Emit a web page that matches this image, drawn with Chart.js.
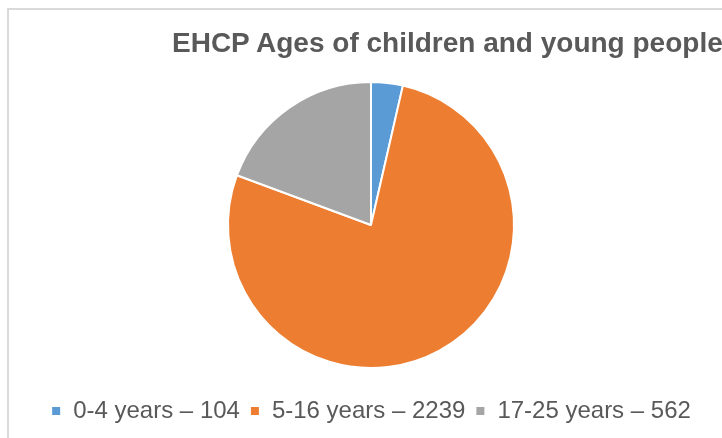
<!DOCTYPE html>
<html>
<head>
<meta charset="utf-8">
<script src="https://cdn.jsdelivr.net/npm/chart.js@4/dist/chart.umd.min.js"></script>
<style>
  html, body { margin: 0; padding: 0; background: #fff; overflow: hidden; }
  #wrap { position: relative; width: 722px; height: 438px; overflow: hidden; }
  #frame { position: absolute; left: 7px; top: 8px; width: 800px; height: 500px;
           border-top: 2px solid #d9d9d9; border-left: 2px solid #d9d9d9; }
  #title { position: absolute; left: 172px; top: 27px; white-space: nowrap;
           font: bold 28px "Liberation Sans", Arial, sans-serif; color: #595959; }
  canvas { position: absolute; left: 0; top: 0; }
</style>
</head>
<body>
<div id="wrap">
  <div id="frame"></div>
  <canvas id="pie" width="722" height="438"></canvas>
  <div id="title">EHCP Ages of children and young people</div>
</div>
<script>
var categories = ["0-4 years", "5-16 years", "17-25 years"];
var counts = [104, 2239, 562];
var colours = ["#5b9bd5", "#ed7d31", "#a5a5a5"];

var labels = categories.map(function (c, i) { return c + " \u2013 " + counts[i]; });

var ctx = document.getElementById("pie");
var pieChart = new Chart(ctx, {
    type: "pie",
    data: {
        labels: labels,
        datasets: [{
            data: counts,
            backgroundColor: colours,
            borderColor: "#ffffff",
            borderWidth: 2
        }]
    },
    options: {
        responsive: false,
        animation: false,
        radius: 143,
        layout: { padding: { top: 61, left: 20, right: 0, bottom: 5 } },
        plugins: {
            title: { display: false },
            tooltip: { enabled: false },
            legend: {
                position: "bottom",
                labels: {
                    boxWidth: 10,
                    boxHeight: 10,
                    padding: 10,
                    color: "#595959",
                    font: { family: "'Liberation Sans', Arial, sans-serif", size: 24 }
                }
            }
        }
    }
});
</script>
</body>
</html>
